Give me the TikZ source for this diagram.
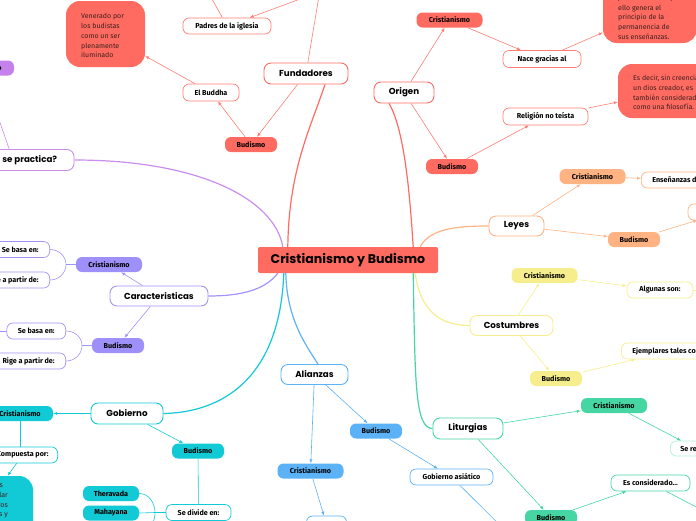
\documentclass[tikz,border=0pt]{standalone}
\usepackage{fontspec}
\usetikzlibrary{arrows.meta,calc}
\newfontfamily\popf{Poppins}
\newfontfamily\notof{Fira Sans}
\definecolor{cred}{HTML}{FF6B61}
\definecolor{credl}{HTML}{FF7D74}
\definecolor{cpur}{HTML}{C98EEF}
\definecolor{cpurf}{HTML}{C580EB}
\definecolor{clav}{HTML}{A094F7}
\definecolor{clavf}{HTML}{9D90F8}
\definecolor{ccyan}{HTML}{12CAD5}
\definecolor{cblue}{HTML}{5CB2F6}
\definecolor{corange}{HTML}{FFB383}
\definecolor{cyellow}{HTML}{F6EE8C}
\definecolor{cgreen}{HTML}{45D6A3}
\definecolor{cgreenl}{HTML}{B4EEDA}
\definecolor{boxtxt}{HTML}{3D1F1D}
\tikzset{
  mainnode/.style={draw=#1, fill=white, line width=0.9pt, rounded corners=7pt, inner sep=0pt, minimum height=21pt, font=\popf\bfseries\fontsize{8.7}{10}\selectfont},
  subnode/.style={fill=#1, rounded corners=6pt, inner sep=0pt, minimum height=15pt, font=\notof\bfseries\fontsize{7.2}{8}\selectfont},
  leafnode/.style={draw=#1, fill=white, line width=0.7pt, rounded corners=6pt, inner sep=0pt, inner xsep=11pt, minimum height=16pt, font=\notof\bfseries\fontsize{7.2}{8}\selectfont},
  boxnode/.style={fill=#1, rounded corners=14pt, inner sep=0pt},
  boxtext/.style={anchor=north west, inner sep=0pt, align=left, font=\notof\fontsize{7}{9.7}\selectfont, text=boxtxt},
  arr/.style={draw=#1, line width=0.6pt, -{Latex[length=4pt,width=3.2pt]}},
  plain/.style={draw=#1, line width=0.6pt},
  branch/.style={draw=#1, line width=1.2pt},
}
\begin{document}
\begin{tikzpicture}[x=1pt,y=-1pt]
\useasboundingbox (0,0) rectangle (696,520);
\begin{scope}
\clip (0,0) rectangle (696,520);
% ---------- central
\node[fill=cred, rounded corners=2pt, minimum width=180pt, minimum height=26pt, inner sep=0pt, font=\popf\bfseries\fontsize{12.6}{14}\selectfont] (c) at (348,260) {Cristianismo y Budismo};
% ---------- Fundadores
\node[mainnode=cred, minimum width=84pt] (fund) at (306,73.5) {Fundadores};
\node[leafnode=credl, minimum width=88pt, inner xsep=0pt] (padres) at (227,26) {Padres de la iglesia};
\node[leafnode=credl, minimum width=56pt, inner xsep=0pt, minimum height=17pt] (buddha) at (211,92.5) {El Buddha};
\node[subnode=cred, minimum width=52pt] (fbud) at (251,144.5) {Budismo};
\node[boxnode=cred, minimum width=79pt, minimum height=66pt] (vener) at (105.5,34) {};
\node[boxtext] (venert) at (81,13.5) {Venerado por\\los budistas\\como un ser\\plenamente\\iluminado};
\coordinate (fcr) at (320,-10);
\coordinate (pcr) at (330,-12);
\coordinate (pup) at (207,-10);
% ---------- Origen
\node[mainnode=cred, minimum width=60pt] (ori) at (404,92.5) {Origen};
\node[subnode=cred, minimum width=66pt] (ocr) at (449.5,20) {Cristianismo};
\node[leafnode=credl, minimum width=78pt, inner xsep=0pt, minimum height=17pt] (nace) at (542,59) {Nace gracias al};
\node[boxnode=cred, minimum width=94pt, minimum height=62pt] (box1) at (650,12) {};
\node[boxtext] (box1t) at (618,-5.5) {Jesús de Nazaret,\\ello genera el\\principio de la\\permanencia de\\sus enseñanzas.};
\node[subnode=cred, minimum width=52pt] (obud) at (452,166.5) {Budismo};
\node[leafnode=credl, minimum width=85pt, inner xsep=0pt, minimum height=17pt] (rel) at (545.5,116.5) {Religión no teísta};
\node[boxnode=cred, minimum width=110pt, minimum height=54pt] (box2) at (673,91) {};
\node[boxtext] (box2t) at (633,75) {Es decir, sin creencia en\\un dios creador, es\\también considerada\\como una filosofía.};
% ---------- Leyes
\node[mainnode=corange, minimum width=55pt, minimum height=20pt] (ley) at (516.5,226) {Leyes};
\node[subnode=corange, minimum width=66pt] (lcr) at (592.5,176.5) {Cristianismo};
\node[leafnode=corange, anchor=west] (ens) at (641,180) {Enseñanzas de Jesús};
\node[subnode=corange, minimum width=52pt] (lbud) at (634,239.5) {Budismo};
\node[leafnode=corange, minimum width=74pt] (loff) at (725,212) {};
% ---------- Costumbres
\node[mainnode=cyellow, minimum width=83pt, minimum height=20pt] (cos) at (511.5,325.5) {Costumbres};
\node[subnode=cyellow, minimum width=66pt] (ccr) at (544.5,275.5) {Cristianismo};
\node[leafnode=cyellow, minimum width=66pt, inner xsep=0pt] (alg) at (660,290) {Algunas son:};
\node[subnode=cyellow, minimum width=52pt] (cbud) at (556,378.5) {Budismo};
\node[leafnode=cyellow, anchor=west] (ejem) at (621,351) {Ejemplares tales como:};
% ---------- Liturgias
\node[mainnode=cgreen, minimum width=70pt] (lit) at (468,428.5) {Liturgias};
\node[subnode=cgreen, minimum width=66pt] (lcrg) at (614,405.5) {Cristianismo};
\node[leafnode=cgreenl, anchor=west, minimum height=15pt, inner xsep=10pt] (sere) at (670,448.5) {Se realiza};
\node[subnode=cgreen, minimum width=52pt] (lbudg) at (551,517.5) {Budismo};
\node[leafnode=cgreen, minimum width=79pt, inner xsep=0pt] (escon) at (650.5,483) {Es considerado...};
\coordinate (esoff) at (740,530);
% ---------- Alianzas
\node[mainnode=cblue, minimum width=67pt, minimum height=20pt] (ali) at (314.5,374.5) {Alianzas};
\node[subnode=cblue, minimum width=66pt] (acr) at (310.5,471) {Cristianismo};
\node[leafnode=cblue, minimum width=40pt, inner xsep=0pt] (aoff) at (326.5,524) {};
\node[subnode=cblue, minimum width=52pt] (abud) at (376,431) {Budismo};
\node[leafnode=cblue, minimum width=83pt, inner xsep=0pt] (gasia) at (451.5,477) {Gobierno asiático};
\coordinate (gaoff) at (520,545);
% ---------- Gobierno
\node[mainnode=ccyan, minimum width=72pt] (gob) at (127,413.5) {Gobierno};
\node[subnode=ccyan, minimum width=66pt] (gcr) at (20,413.5) {Cristianismo};
\node[leafnode=ccyan, anchor=east, inner xsep=9pt] (comp) at (58,455) {Compuesta por:};
\node[boxnode=ccyan, minimum width=113pt, minimum height=84pt] (gbox) at (-23.5,518) {};
\node[boxtext, anchor=north east, align=right] (gboxt) at (8,482) {El Papa y los obispos\hspace*{5pt}\\el clero regular\hspace*{5pt}\\y los presbíteros\hspace*{5pt}\\diáconos y};
\node[subnode=ccyan, minimum width=52pt] (gbud) at (198,451) {Budismo};
\node[leafnode=ccyan, minimum width=65pt, inner xsep=0pt] (div) at (198.5,512.5) {Se divide en:};
\node[subnode=ccyan, minimum width=56pt] (thv) at (111,493.5) {Theravada};
\node[subnode=ccyan, minimum width=56pt] (mah) at (111,513) {Mahayana};
\coordinate (gj) at (155,512.5);
\coordinate (third) at (139,533);
% ---------- Caracteristicas
\node[mainnode=clav, minimum width=98pt, minimum height=20pt] (car) at (159,296) {Caracteristicas};
\node[subnode=clavf, minimum width=66pt] (cacr) at (109,264.5) {Cristianismo};
\node[subnode=clavf, minimum width=52pt] (cabud) at (118,345.5) {Budismo};
\node[leafnode=clav, anchor=east] (sb1) at (50,249.5) {Se basa en:};
\node[leafnode=clav, anchor=east] (rg1) at (50,280) {Rige a partir de:};
\node[leafnode=clav, anchor=east] (sb2) at (66,331) {Se basa en:};
\node[leafnode=clav, anchor=east] (rg2) at (66,361) {Rige a partir de:};
\coordinate (j1) at (66,264.5);
\coordinate (j2) at (82,345.5);
\coordinate (sboff) at (-20,331);
% ---------- Como se practica
\node[mainnode=cpur, minimum width=122pt] (prac) at (13,160) {¿Cómo se practica?};
\node[subnode=cpurf, minimum width=66pt] (pcrs) at (-19,68) {Cristianismo};

% ---------- main branches
\draw[branch=cred] ($(c.north west)+(30,0)$) .. controls +(1,-77) and +(-15,45) .. ($(fund.south)+(19,0)$);
\draw[branch=cpur] ($(c.north west)+(25,0)$) .. controls +(-8,-47) and +(126,0) .. (prac.east);
\draw[branch=clav] ($(c.south west)+(20,0)$) .. controls +(-13,17) and +(32,0) .. (car.east);
\draw[branch=ccyan] ($(c.south west)+(26,0)$) .. controls +(-4,107) and +(57,-1) .. (gob.east);
\draw[branch=cblue] ($(c.south west)+(28,0)$) .. controls +(1,45) and +(-13,-20) .. ($(ali.north)+(3.5,0)$);
\draw[branch=cred] ($(c.north east)+(-25,0)$) .. controls +(-3,-47) and +(16,27) .. ($(ori.south)+(-15,0)$);
\draw[branch=corange] ($(c.north east)+(-18,0)$) .. controls +(10,-19) and +(-29,0) .. (ley.west);
\draw[branch=cyellow] ($(c.south east)+(-23,0)$) .. controls +(5,37) and +(-30,0) .. (cos.west);
\draw[branch=cgreen] ($(c.south east)+(-25,0)$) .. controls +(2,107) and +(-18,0) .. (lit.west);

% ---------- Fundadores connectors
\draw[arr=credl] (fund) -- (fbud);
\draw[arr=credl] (fbud) -- (buddha);
\draw[arr=credl] (buddha) -- (vener);
\draw[plain=credl] (fund) -- (fcr);
\draw[arr=credl] (pcr) -- (padres);
\draw[plain=credl] (padres) -- (pup);
% ---------- Origen connectors
\draw[arr=credl] (ori) -- (ocr);
\draw[arr=credl] (ocr) -- (nace);
\draw[arr=credl] (nace) -- (box1);
\draw[arr=credl] (ori) -- (obud);
\draw[arr=credl] (obud) -- (rel);
\draw[arr=credl] (rel) -- (box2);
% ---------- Leyes
\draw[arr=corange] (ley) -- (lcr);
\draw[arr=corange] (lcr) -- (ens);
\draw[arr=corange] (ley) -- (lbud);
\draw[arr=corange] (lbud) -- (loff);
% ---------- Costumbres
\draw[arr=cyellow] (cos) -- (ccr);
\draw[arr=cyellow] (ccr) -- (alg);
\draw[plain=cyellow] (alg.east) -- ++(15,0);
\draw[arr=cyellow] (cos) -- (cbud);
\draw[arr=cyellow] (cbud) -- (ejem);
% ---------- Liturgias
\draw[arr=cgreen] (lit) -- (lcrg);
\draw[arr=cgreen] (lcrg) -- (sere);
\draw[arr=cgreen] (lit) -- (lbudg);
\draw[arr=cgreen] (lbudg) -- (escon);
\draw[arr=cgreen] (escon) -- (esoff);
% ---------- Alianzas
\draw[arr=cblue] (ali) -- (acr);
\draw[arr=cblue] (acr) -- (aoff);
\draw[arr=cblue] (ali) -- (abud);
\draw[arr=cblue] (abud) -- (gasia);
\draw[arr=cblue] (gasia) -- (gaoff);
% ---------- Gobierno
\draw[arr=ccyan] (gob) -- (gcr);
\draw[plain=ccyan] (gcr) -- (comp.north -| gcr);
\draw[arr=ccyan] (comp) -- (gbox);
\draw[arr=ccyan] (gob) -- (gbud);
\draw[plain=ccyan] (gbud) -- (div);
\draw[plain=ccyan] (div.west) -- (gj);
\draw[plain=ccyan] (thv.east) to[out=0,in=90] (gj);
\draw[plain=ccyan] (mah.east) -- (gj);
\draw[plain=ccyan] (gj) to[out=-90,in=0] (third);
% ---------- Caracteristicas
\draw[arr=clav] (car) -- (cacr);
\draw[arr=clav] (car) -- (cabud);
\draw[plain=clav] (cacr.west) -- (j1);
\draw[plain=clav] (sb1.east) to[out=0,in=90] (j1);
\draw[plain=clav] (rg1.east) to[out=0,in=-90] (j1);
\draw[plain=clav] (cabud.west) -- (j2);
\draw[plain=clav] (sb2.east) to[out=0,in=90] (j2);
\draw[plain=clav] (rg2.east) to[out=0,in=-90] (j2);
\draw[plain=clav] (sb2.west) -- (sboff);
% ---------- practica
\draw[arr=cpur] (prac) -- (pcrs);
\end{scope}
\end{tikzpicture}
\end{document}
